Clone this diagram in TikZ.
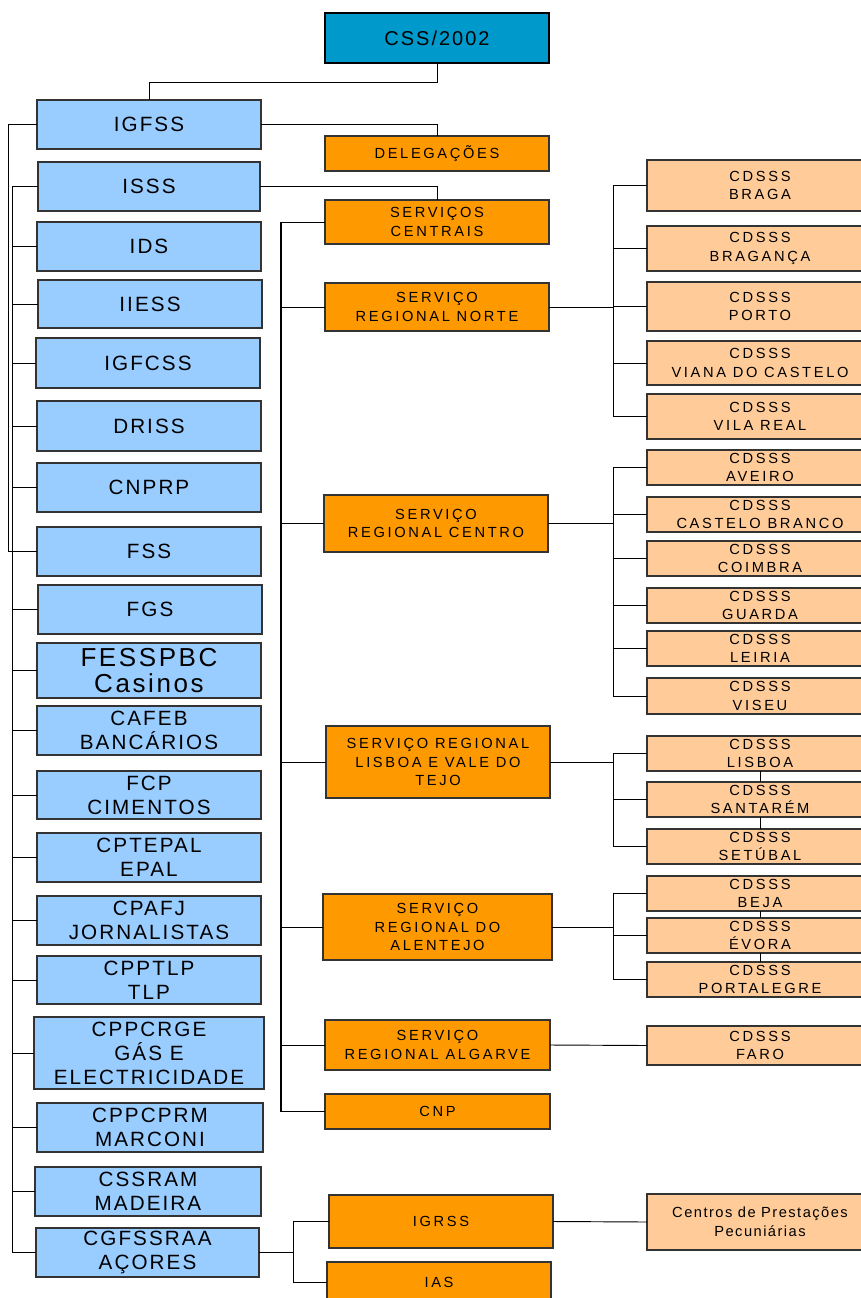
\documentclass[tikz,border=0pt]{standalone}
\usepackage{fontspec}
\setmainfont{Liberation Sans}
\newfontfamily\fb[LetterSpace=10]{Liberation Sans}
\newfontfamily\fo[LetterSpace=18]{Liberation Sans}
\definecolor{cssblue}{RGB}{0,153,204}
\definecolor{lightblue}{RGB}{153,204,255}
\definecolor{orangeA}{RGB}{255,153,0}
\definecolor{peach}{RGB}{255,204,153}
\newcommand\bx[7]{\node[#6, minimum width={(#4-#2)*0.75pt}, minimum height={(#5-#3)*0.75pt}] (#1) at ({(#2+#4)/2},{(#3+#5)/2}) {#7};}
\begin{document}
\begin{tikzpicture}[x=0.75pt,y=-0.75pt,
  base/.style={draw=black!80, line width=0.8pt, inner sep=0pt, outer sep=0pt, align=center, text=black},
  cssbox/.style={base, fill=cssblue, draw=black, line width=2.2pt, font=\fb\fontsize{15}{18}\selectfont},
  bluebox/.style={base, fill=lightblue, font=\fb\fontsize{15.5}{18}\selectfont},
  bigbox/.style={base, fill=lightblue, font=\fb\fontsize{19.5}{19}\selectfont},
  orangebox/.style={base, fill=orangeA, font=\fo\fontsize{11}{14}\selectfont},
  peachbox/.style={base, fill=peach, font=\fo\fontsize{11}{14}\selectfont},
  cpbox/.style={base, fill=peach, font=\fb\fontsize{11}{14}\selectfont},
  conn/.style={draw=black, line width=0.7pt}]
\useasboundingbox (0,0) rectangle (860,1298);
% top
\bx{css}{325}{13}{549}{63}{cssbox}{CSS/2002}
% left column
\bx{igfss}{37}{100}{261}{149}{bluebox}{IGFSS}
\bx{isss}{38}{162}{260}{211}{bluebox}{ISSS}
\bx{ids}{37}{222}{261}{271}{bluebox}{IDS}
\bx{iiess}{38}{280}{262}{328}{bluebox}{IIESS}
\bx{igfcss}{36}{338}{260}{388}{bluebox}{IGFCSS}
\bx{driss}{37}{401}{261}{451}{bluebox}{DRISS}
\bx{cnprp}{37}{463}{261}{512}{bluebox}{CNPRP}
\bx{fss}{37}{527}{261}{576}{bluebox}{FSS}
\bx{fgs}{38}{585}{262}{634}{bluebox}{FGS}
\bx{fesspbc}{37}{643}{261}{698}{bigbox}{FESSPBC\\Casinos}
\bx{cafeb}{37}{706}{261}{755}{bluebox}{CAFEB\\BANCÁRIOS}
\bx{fcp}{37}{771}{261}{819}{bluebox}{FCP\\CIMENTOS}
\bx{cptepal}{37}{833}{261}{882}{bluebox}{CPTEPAL\\EPAL}
\bx{cpafj}{37}{896}{261}{945}{bluebox}{CPAFJ\\JORNALISTAS}
\bx{cpptlp}{37}{956}{261}{1004}{bluebox}{CPPTLP\\TLP}
\bx{cppcrge}{34}{1017}{264}{1089}{bluebox}{CPPCRGE\\GÁS E\\ELECTRICIDADE}
\bx{cppcprm}{37}{1103}{263}{1152}{bluebox}{CPPCPRM\\MARCONI}
\bx{cssram}{35}{1167}{261}{1216}{bluebox}{CSSRAM\\MADEIRA}
\bx{cgfssraa}{36}{1228}{259}{1277}{bluebox}{CGFSSRAA\\AÇORES}
% middle column
\bx{deleg}{325}{136}{549}{171}{orangebox}{DELEGAÇÕES}
\bx{sc}{325}{200}{549}{244}{orangebox}{SERVIÇOS\\CENTRAIS}
\bx{srn}{325}{283}{549}{331}{orangebox}{SERVIÇO\\REGIONAL NORTE}
\bx{src}{324}{495}{548}{552}{orangebox}{SERVIÇO\\REGIONAL CENTRO}
\bx{srl}{326}{726}{550}{798}{orangebox}{SERVIÇO REGIONAL\\LISBOA E VALE DO\\TEJO}
\bx{sra}{323}{894}{552}{960}{orangebox}{SERVIÇO\\REGIONAL DO\\ALENTEJO}
\bx{srg}{325}{1020}{550}{1070}{orangebox}{SERVIÇO\\REGIONAL ALGARVE}
\bx{cnp}{325}{1094}{550}{1129}{orangebox}{CNP}
\bx{igrss}{329}{1195}{553}{1248}{orangebox}{IGRSS}
\bx{ias}{327}{1262}{551}{1302}{orangebox}{IAS}
% right column
\bx{braga}{647}{160}{873}{211}{peachbox}{CDSSS\\BRAGA}
\bx{braganca}{647}{226}{873}{271}{peachbox}{CDSSS\\BRAGANÇA}
\bx{porto}{647}{282}{873}{331}{peachbox}{CDSSS\\PORTO}
\bx{viana}{647}{341}{873}{385}{peachbox}{CDSSS\\VIANA DO CASTELO}
\bx{vilareal}{647}{394}{873}{439}{peachbox}{CDSSS\\VILA REAL}
\bx{aveiro}{647}{450}{873}{485}{peachbox}{CDSSS\\AVEIRO}
\bx{castelo}{647}{497}{873}{532}{peachbox}{CDSSS\\CASTELO BRANCO}
\bx{coimbra}{647}{541}{873}{576}{peachbox}{CDSSS\\COIMBRA}
\bx{guarda}{647}{588}{873}{623}{peachbox}{CDSSS\\GUARDA}
\bx{leiria}{647}{631}{873}{666}{peachbox}{CDSSS\\LEIRIA}
\bx{viseu}{647}{678}{873}{714}{peachbox}{CDSSS\\VISEU}
\bx{lisboa}{647}{736}{873}{771}{peachbox}{CDSSS\\LISBOA}
\bx{santarem}{647}{782}{873}{817}{peachbox}{CDSSS\\SANTARÉM}
\bx{setubal}{647}{829}{873}{864}{peachbox}{CDSSS\\SETÚBAL}
\bx{beja}{647}{876}{873}{911}{peachbox}{CDSSS\\BEJA}
\bx{evora}{647}{918}{873}{953}{peachbox}{CDSSS\\ÉVORA}
\bx{portalegre}{647}{962}{873}{997}{peachbox}{CDSSS\\PORTALEGRE}
\bx{faro}{647}{1026}{873}{1065}{peachbox}{CDSSS\\FARO}
\bx{centros}{647}{1194}{873}{1250}{cpbox}{Centros de Prestações\\Pecuniárias}
% bus coordinates
\coordinate (la) at (8,0);
\coordinate (lb) at (12,0);
\coordinate (mb) at (281,0);
\coordinate (bb) at (293,0);
\coordinate (rb) at (613,0);
% connectors
\draw[conn] (css.south) -- ++(0,19) -| (igfss.north);
\draw[conn] (igfss.east) -| (deleg.north);
\draw[conn] (isss.east) -| (sc.north);
\draw[conn] (igfss.west) -- (igfss.west -| la) -- (fss.west -| la) -- (fss.west);
\draw[conn] (isss.west -| lb) -- (cgfssraa.west -| lb);
\foreach \n in {isss,ids,iiess,igfcss,driss,cnprp,fgs,fesspbc,cafeb,fcp,cptepal,cpafj,cpptlp,cppcrge,cppcprm,cssram,cgfssraa}
  \draw[conn] (\n.west) -- (\n.west -| lb);
\draw[conn, line width=1pt] (sc.west -| mb) -- (cnp.west -| mb);
\foreach \n in {sc,srn,src,srl,sra,srg,cnp}
  \draw[conn] (\n.west) -- (\n.west -| mb);
\draw[conn] (cgfssraa.east) -- (cgfssraa.east -| bb);
\draw[conn] (igrss.west -| bb) -- (ias.west -| bb);
\foreach \n in {igrss,ias}
  \draw[conn] (\n.west) -- (\n.west -| bb);
% right groups
\draw[conn] (srn.east) -- (srn.east -| rb);
\draw[conn] (braga.west -| rb) -- (vilareal.west -| rb);
\foreach \n in {braga,braganca,porto,viana,vilareal}
  \draw[conn] (\n.west) -- (\n.west -| rb);
\draw[conn, line width=1.4pt] (src.east) -- (src.east -| rb);
\draw[conn] (aveiro.west -| rb) -- (viseu.west -| rb);
\foreach \n in {aveiro,castelo,coimbra,guarda,leiria,viseu}
  \draw[conn] (\n.west) -- (\n.west -| rb);
\draw[conn] (srl.east) -- (srl.east -| rb);
\draw[conn] (lisboa.west -| rb) -- (setubal.west -| rb);
\foreach \n in {lisboa,santarem,setubal}
  \draw[conn] (\n.west) -- (\n.west -| rb);
\draw[conn] (sra.east) -- (sra.east -| rb);
\draw[conn] (beja.west -| rb) -- (portalegre.west -| rb);
\foreach \n in {beja,evora,portalegre}
  \draw[conn] (\n.west) -- (\n.west -| rb);
\draw[conn] (lisboa.south) -- (santarem.north);
\draw[conn] (santarem.south) -- (setubal.north);
\draw[conn] (beja.south) -- (evora.north);
\draw[conn] (evora.south) -- (portalegre.north);
\draw[conn] (srg.east) -- (faro.west);
\draw[conn] (igrss.east) -- (centros.west);
\end{tikzpicture}
\end{document}
